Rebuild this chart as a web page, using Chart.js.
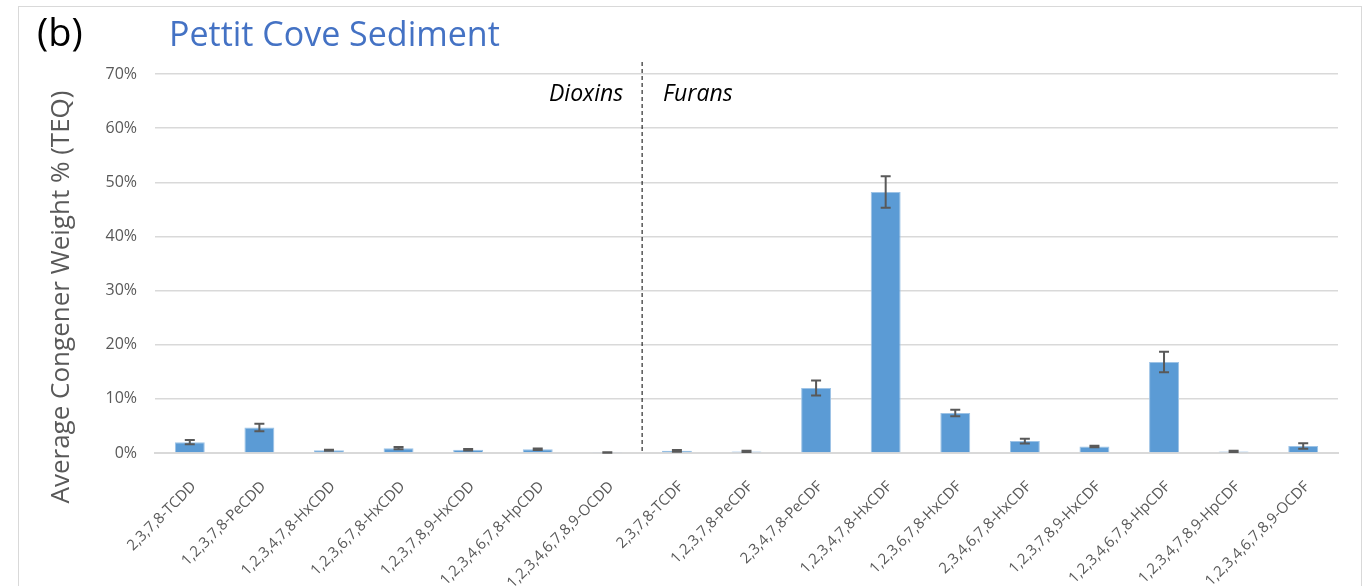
<!DOCTYPE html>
<html>
<head>
<meta charset="utf-8">
<script src="https://cdn.jsdelivr.net/npm/chart.js@4.4.1/dist/chart.umd.min.js"></script>
<style>
    body { margin: 0; background: #fff; font-family: "Open Sans", sans-serif; }
    #wrap { position: relative; width: 1371px; height: 586px; overflow: hidden; }
    #frame { position: absolute; left: 18px; top: 6px; width: 1342px; height: 640px; border: 1px solid #d9d9d9; }
    #panel { position: absolute; left: 37px; top: 5px; font-size: 38px; color: #000; }
    #title { position: absolute; left: 169px; top: 10px; font-size: 34px; color: #4472c4; }
    canvas { position: absolute; left: 0; top: 0; }
</style>
</head>
<body>
<div id="wrap">
    <div id="frame"></div>
    <canvas id="chart" width="1371" height="586"></canvas>
    <div id="panel">(b)</div>
    <div id="title">Pettit Cove Sediment</div>
</div>
<script>
// congeners, dioxins first then furans
const congeners = [
    "2,3,7,8-TCDD", "1,2,3,7,8-PeCDD", "1,2,3,4,7,8-HxCDD", "1,2,3,6,7,8-HxCDD",
    "1,2,3,7,8,9-HxCDD", "1,2,3,4,6,7,8-HpCDD", "1,2,3,4,6,7,8,9-OCDD",
    "2,3,7,8-TCDF", "1,2,3,7,8-PeCDF", "2,3,4,7,8-PeCDF", "1,2,3,4,7,8-HxCDF",
    "1,2,3,6,7,8-HxCDF", "2,3,4,6,7,8-HxCDF", "1,2,3,7,8,9-HxCDF",
    "1,2,3,4,6,7,8-HpCDF", "1,2,3,4,7,8,9-HpCDF", "1,2,3,4,6,7,8,9-OCDF"
];
// average weight % (TEQ)
const weightPct = [2.0, 4.7, 0.5, 0.9, 0.6, 0.7, 0.1, 0.4, 0.3, 12.0, 48.2, 7.4, 2.2, 1.2, 16.8, 0.3, 1.3];
// +/- error
const weightErr = [0.4, 0.7, 0.1, 0.2, 0.15, 0.15, 0.05, 0.15, 0.1, 1.4, 2.9, 0.6, 0.45, 0.15, 1.9, 0.1, 0.5];
const yTicks = [0, 10, 20, 30, 40, 50, 60, 70];
const dioxinCount = 7;

const errorBars = {
    id: "errorBars",
    afterDatasetsDraw(chart) {
        const ctx = chart.ctx;
        const meta = chart.getDatasetMeta(0);
        const y = chart.scales.y;
        ctx.save();
        ctx.strokeStyle = "#595959";
        ctx.lineWidth = 2;
        meta.data.forEach((bar, i) => {
            const hi = y.getPixelForValue(weightPct[i] + weightErr[i]);
            const lo = y.getPixelForValue(Math.max(0, weightPct[i] - weightErr[i]));
            ctx.beginPath();
            ctx.moveTo(bar.x, hi);
            ctx.lineTo(bar.x, lo);
            ctx.moveTo(bar.x - 5, hi);
            ctx.lineTo(bar.x + 5, hi);
            ctx.moveTo(bar.x - 5, lo);
            ctx.lineTo(bar.x + 5, lo);
            ctx.stroke();
        });
        ctx.restore();
    },
};

const groupDivider = {
    id: "groupDivider",
    afterDraw(chart) {
        const ctx = chart.ctx;
        const x = chart.scales.x;
        const area = chart.chartArea;
        const xDiv = (x.getPixelForValue(dioxinCount - 1) + x.getPixelForValue(dioxinCount)) / 2;
        ctx.save();
        ctx.strokeStyle = "#000";
        ctx.lineWidth = 1;
        ctx.setLineDash([4, 3]);
        ctx.beginPath();
        ctx.moveTo(xDiv, 62);
        ctx.lineTo(xDiv, area.bottom);
        ctx.stroke();
        ctx.setLineDash([]);
        ctx.fillStyle = "#000";
        ctx.font = "italic 23px 'Open Sans'";
        ctx.textBaseline = "alphabetic";
        ctx.textAlign = "right";
        ctx.fillText("Dioxins", xDiv - 19, 101);
        ctx.textAlign = "left";
        ctx.fillText("Furans", xDiv + 21, 101);

        // y axis title, centred like the original
        ctx.save();
        ctx.translate(62, 297);
        ctx.rotate(-Math.PI / 2);
        ctx.textAlign = "center";
        ctx.textBaseline = "middle";
        ctx.fillStyle = "#595959";
        ctx.font = "26px 'Open Sans'";
        ctx.fillText("Average Congener Weight % (TEQ)", 0, 0);
        ctx.restore();
        ctx.restore();
    },
};

new Chart(document.getElementById("chart"), {
    type: "bar",
    data: {
        labels: congeners,
        datasets: [
            {
                data: weightPct,
                backgroundColor: "#5b9bd5",
                borderColor: "#9dc3e6",
                borderWidth: 1,
                barPercentage: 0.86,
                categoryPercentage: 0.5,
            },
        ],
    },
    options: {
        responsive: false,
        animation: false,
        layout: { padding: { top: 74, right: 33, left: 0, bottom: 0 } },
        plugins: {
            legend: { display: false },
            tooltip: { enabled: false },
        },
        scales: {
            x: {
                grid: { display: false },
                border: { color: "#d9d9d9", width: 2 },
                ticks: {
                    maxRotation: 45,
                    minRotation: 45,
                    autoSkip: false,
                    color: "#595959",
                    padding: 17,
                    labelOffset: 4,
                    font: { family: "'Open Sans'", size: 15 },
                },
                afterFit(scale) {
                    scale.height = 133;
                },
            },
            y: {
                min: 0,
                max: 70,
                afterBuildTicks(scale) {
                    scale.ticks = yTicks.map((v) => ({ value: v }));
                },
                grid: { color: "#d9d9d9", lineWidth: 1.5, drawTicks: false },
                border: { display: false },
                ticks: {
                    color: "#595959",
                    padding: 18,
                    font: { family: "'Open Sans'", size: 16 },
                    callback: (v) => v + "%",
                },
                afterFit(scale) {
                    scale.width = 155;
                },
            },
        },
    },
    plugins: [errorBars, groupDivider],
});
</script>
</body>
</html>
